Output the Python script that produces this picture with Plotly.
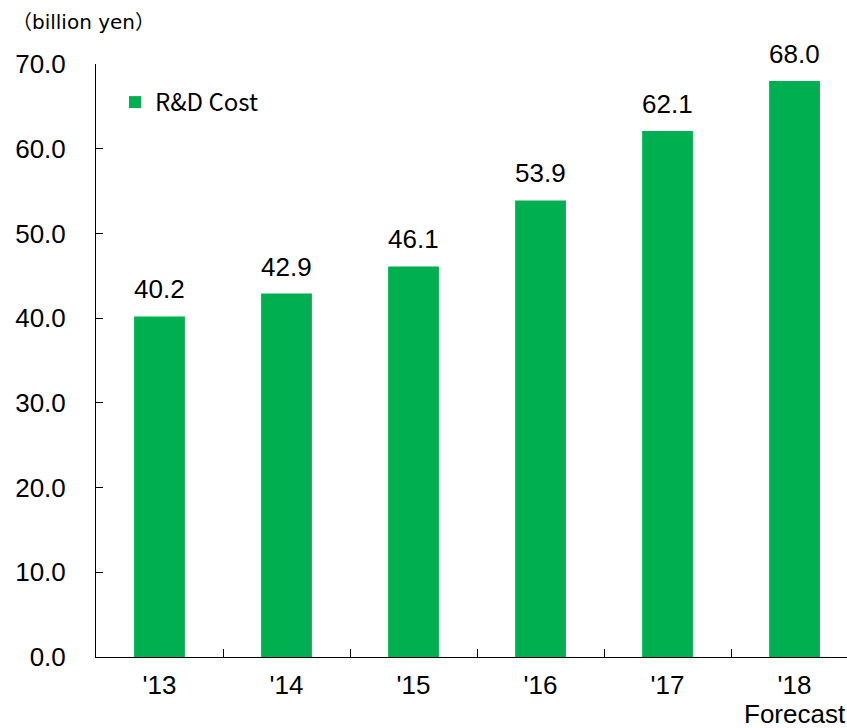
import plotly.graph_objects as go

categories = ["'13", "'14", "'15", "'16", "'17", "'18"]
values = [40.2, 42.9, 46.1, 53.9, 62.1, 68.0]
value_labels = ["40.2", "42.9", "46.1", "53.9", "62.1", "68.0"]
y_ticks = [0, 10, 20, 30, 40, 50, 60, 70]
y_tick_labels = ["0.0", "10.0", "20.0", "30.0", "40.0", "50.0", "60.0", "70.0"]
series_name = "R&D Cost"
unit_label = "（billion yen）"
forecast_note = "Forecast"

W, H = 847, 728
L, R, T, B = 96, 0, 64, 71
pw = W - L - R
ph = H - T - B

FONT = "Liberation Sans, Arial"

fig = go.Figure()
fig.add_trace(go.Bar(
    x=categories, y=values, name=series_name,
    marker=dict(color="#00B050", line=dict(width=0)),
    width=0.4,
    showlegend=True,
))

annotations = []
for c, v, t in zip(categories, values, value_labels):
    annotations.append(dict(
        x=c, y=v, xref="x", yref="y", text=t, showarrow=False,
        xanchor="center", yanchor="bottom", yshift=10,
        font=dict(family=FONT, size=26, color="black"),
    ))
annotations.append(dict(
    x=categories[-1], y=0, xref="x", yref="y", text=forecast_note, showarrow=False,
    xanchor="center", yanchor="top", yshift=-40,
    font=dict(family=FONT, size=26, color="black"),
))
annotations.append(dict(
    text=unit_label, xref="paper", yref="paper",
    x=(10 - L) / pw, y=1 + (T - 22) / ph,
    xanchor="left", yanchor="middle", showarrow=False,
    font=dict(family="DejaVu Sans, Noto Sans CJK JP", size=20, color="black"),
))

fig.update_layout(
    width=W, height=H,
    margin=dict(l=L, r=R, t=T, b=B, pad=0),
    plot_bgcolor="white", paper_bgcolor="white",
    font=dict(family=FONT, size=26, color="black"),
    showlegend=True,
    legend=dict(
        x=(115 - L) / pw, y=1 - (80 - T) / ph,
        xanchor="left", yanchor="top",
        bgcolor="rgba(0,0,0,0)",
        font=dict(family="Noto Sans CJK JP, Liberation Sans", size=24, color="black"),
        itemwidth=30,
    ),
    xaxis=dict(
        type="category",
        range=[-0.5, 5.413],
        showline=True, linecolor="black", linewidth=1,
        ticks="inside", ticklen=8, tickcolor="black", tickwidth=1,
        tickson="boundaries",
        ticklabelstandoff=5,
        tickfont=dict(family=FONT, size=26, color="black"),
        showgrid=False, zeroline=False,
    ),
    yaxis=dict(
        range=[0, 70],
        tickvals=y_ticks, ticktext=y_tick_labels,
        showline=True, linecolor="black", linewidth=1,
        ticks="inside", ticklen=7, tickcolor="black", tickwidth=1,
        ticklabelstandoff=24,
        tickfont=dict(family=FONT, size=26, color="black"),
        showgrid=False, zeroline=False,
    ),
    annotations=annotations,
)

fig.write_html(
    "out.html",
    config={"displayModeBar": False},
    post_script="document.body.style.margin='0';"
                "document.documentElement.style.overflow='hidden';"
                "document.body.style.overflow='hidden';",
)
